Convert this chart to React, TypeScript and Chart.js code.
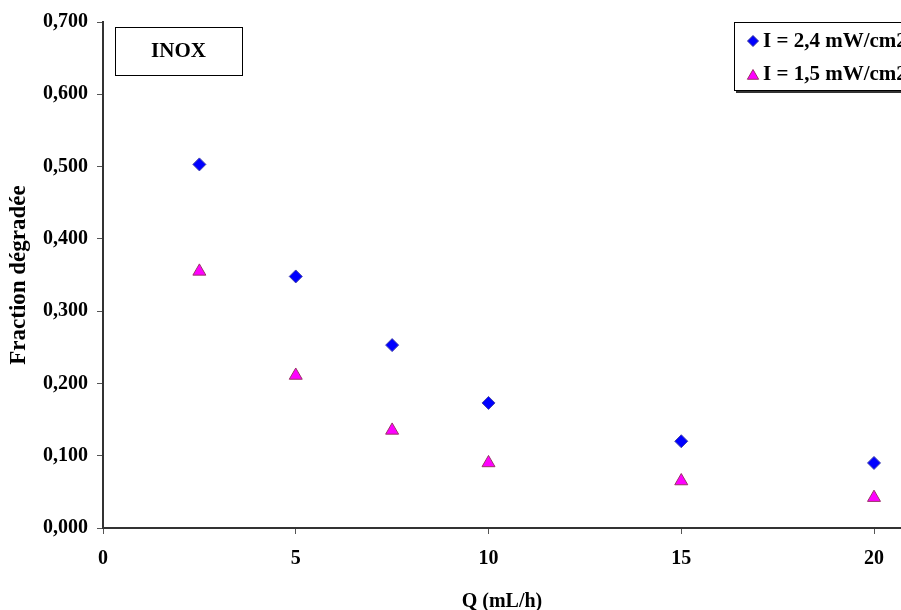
import React, { useEffect, useRef } from "react";
import { Chart, registerables } from "chart.js";

Chart.register(...registerables);

const qValues = [2.5, 5, 7.5, 10, 15, 20];
const series1Label = "I = 2,4 mW/cm2";
const series1Values = [0.503, 0.348, 0.253, 0.173, 0.12, 0.09];
const series2Label = "I = 1,5 mW/cm2";
const series2Values = [0.355, 0.211, 0.135, 0.09, 0.065, 0.042];
const xTicks = [0, 5, 10, 15, 20];
const yTicks = [0, 0.1, 0.2, 0.3, 0.4, 0.5, 0.6, 0.7];
const boxLabel = "INOX";
const xTitle = "Q (mL/h)";
const yTitle = "Fraction dégradée";

const FONT = "'Liberation Serif', 'Times New Roman', serif";

function drawDiamond(ctx: CanvasRenderingContext2D, x: number, y: number, r: number) {
  ctx.beginPath();
  ctx.moveTo(x, y - r);
  ctx.lineTo(x + r, y);
  ctx.lineTo(x, y + r);
  ctx.lineTo(x - r, y);
  ctx.closePath();
}
function drawTriangle(ctx: CanvasRenderingContext2D, x: number, y: number, r: number) {
  ctx.beginPath();
  ctx.moveTo(x, y - r);
  ctx.lineTo(x + r * 0.866, y + r * 0.5);
  ctx.lineTo(x - r * 0.866, y + r * 0.5);
  ctx.closePath();
}

const boxesPlugin = {
  id: "boxes",
  afterDraw(chart: any) {
    const ctx = chart.ctx as CanvasRenderingContext2D;
    ctx.save();
    // INOX box
    ctx.fillStyle = "#ffffff";
    ctx.fillRect(115, 27, 127, 48);
    ctx.strokeStyle = "#000";
    ctx.lineWidth = 1;
    ctx.strokeRect(115.5, 27.5, 127, 48);
    ctx.fillStyle = "#000";
    ctx.font = `bold 21px ${FONT}`;
    ctx.textAlign = "center";
    ctx.textBaseline = "middle";
    ctx.fillText(boxLabel, 178.5, 52);

    // Legend box with shadow
    ctx.fillStyle = "#333";
    ctx.fillRect(736, 24, 200, 69);
    ctx.fillStyle = "#fff";
    ctx.fillRect(734, 22, 200, 69);
    ctx.strokeStyle = "#000";
    ctx.strokeRect(734.5, 22.5, 200, 68);

    const ds = chart.data.datasets;
    ctx.textAlign = "left";
    ctx.font = `bold 21px ${FONT}`;
    // row 1
    ctx.fillStyle = "#0000ff";
    ctx.strokeStyle = "#333399";
    drawDiamond(ctx, 753, 41, 5.5);
    ctx.fill();
    ctx.stroke();
    ctx.fillStyle = "#000";
    ctx.fillText(ds[0].label, 763, 42);
    // row 2
    ctx.fillStyle = "#ff00ff";
    ctx.strokeStyle = "#993366";
    drawTriangle(ctx, 753, 76, 6.5);
    ctx.fill();
    ctx.stroke();
    ctx.fillStyle = "#000";
    ctx.fillText(ds[1].label, 763, 75);
    ctx.restore();
  },
};

export default function App() {
  const ref = useRef<HTMLCanvasElement>(null);
  useEffect(() => {
    if (!ref.current) return;
    const chart = new Chart(ref.current, {
      type: "scatter",
      data: {
        datasets: [
          {
            label: series1Label,
            data: qValues.map((q, i) => ({ x: q, y: series1Values[i] })),
            pointStyle: "rectRot",
            pointRadius: 6.5,
            backgroundColor: "#0000ff",
            borderColor: "#4444aa",
            borderWidth: 1,
          },
          {
            label: series2Label,
            data: qValues.map((q, i) => ({ x: q, y: series2Values[i] })),
            pointStyle: "triangle",
            pointRadius: 7.5,
            backgroundColor: "#ff00ff",
            borderColor: "#993366",
            borderWidth: 1,
          },
        ],
      },
      options: {
        responsive: false,
        animation: false,
        devicePixelRatio: 1,
        layout: { autoPadding: false, padding: { top: 22, right: 0, left: 0, bottom: 0 } },
        plugins: {
          legend: { display: false },
          tooltip: { enabled: false },
        },
        scales: {
          x: {
            type: "linear",
            min: 0,
            max: 20.7,
            afterBuildTicks: (scale: any) => {
              scale.ticks = xTicks.map((v) => ({ value: v }));
            },
            afterFit: (scale: any) => {
              scale.height = 82;
              scale.paddingRight = 0;
              scale.paddingLeft = 0;
            },
            border: { color: "#333", width: 2 },
            grid: { drawOnChartArea: false, drawTicks: true, tickLength: 6, color: "#555" },
            ticks: {
              color: "#000",
              padding: 13,
              font: { family: FONT, size: 20, weight: "bold" },
              callback: (v: any) => String(v),
            },
            title: {
              display: true,
              text: xTitle,
              color: "#000",
              padding: { top: 0, bottom: -4 },
              font: { family: FONT, size: 20, weight: "bold" },
            },
          },
          y: {
            type: "linear",
            min: 0,
            max: 0.7,
            afterBuildTicks: (scale: any) => {
              scale.ticks = yTicks.map((v) => ({ value: v }));
            },
            afterFit: (scale: any) => {
              scale.width = 103;
              scale.paddingTop = 0;
              scale.paddingBottom = 0;
            },
            border: { color: "#333", width: 2 },
            grid: { drawOnChartArea: false, drawTicks: true, tickLength: 6, color: "#555" },
            ticks: {
              color: "#000",
              padding: 9,
              font: { family: FONT, size: 20, weight: "bold" },
              callback: (v: any) => Number(v).toFixed(3).replace(".", ","),
            },
            title: {
              display: true,
              text: yTitle,
              color: "#000",
              padding: 5,
              font: { family: FONT, size: 23, weight: "bold" },
            },
          },
        },
      },
      plugins: [boxesPlugin],
    } as any);
    return () => chart.destroy();
  }, []);
  return (
    <div style={{ position: "absolute", left: 0, top: 0, width: 901, height: 610, background: "#fff", overflow: "hidden" }}>
      <canvas ref={ref} width={901} height={610} />
    </div>
  );
}
